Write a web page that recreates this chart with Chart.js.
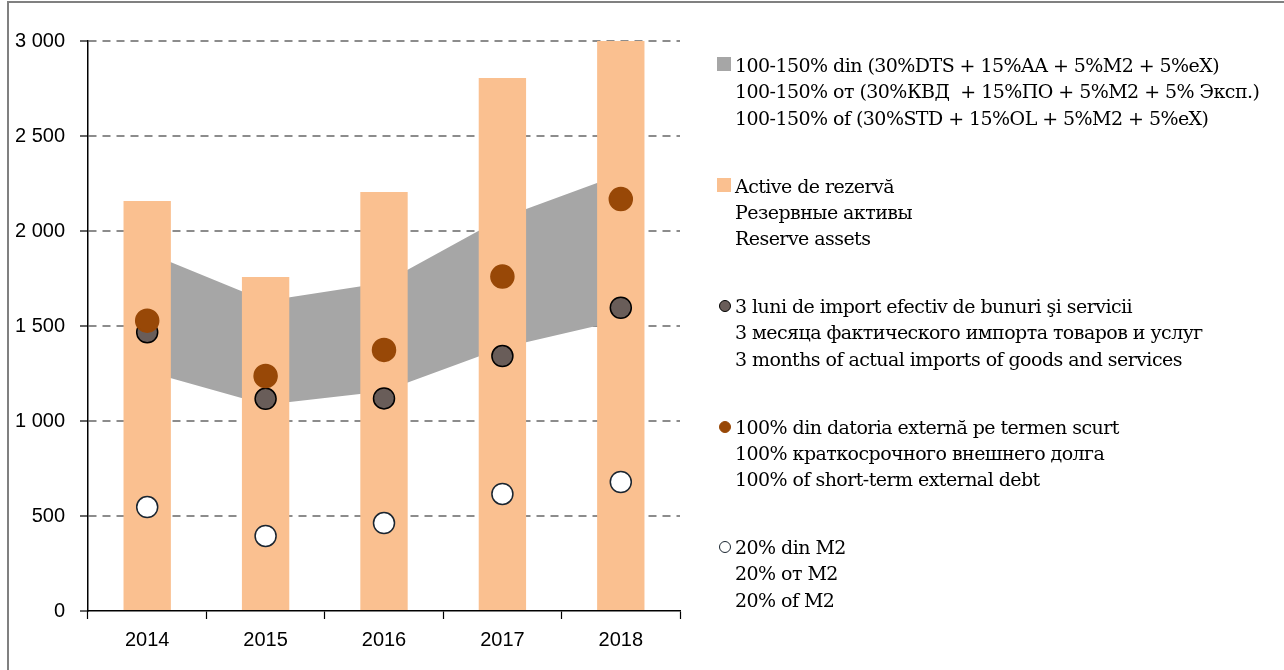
<!DOCTYPE html>
<html>
<head>
<meta charset="utf-8">
<script src="https://cdn.jsdelivr.net/npm/chart.js@4.4.1/dist/chart.umd.min.js"></script>
<style>
  body { margin: 0; background: #fff; }
  #wrap { position: relative; width: 1284px; height: 670px; overflow: hidden; }
  #frame { position: absolute; left: 7px; top: 1px; width: 1300px; height: 700px; border: 2px solid #808080; box-sizing: border-box; }
  canvas { position: absolute; left: 0; top: 0; }
  #legend { position: absolute; left: 0; top: 0; font-family: "DejaVu Serif", serif; font-size: 19px; letter-spacing: -0.55px; color: #000; }
  .item { position: absolute; left: 735px; white-space: pre; line-height: 26.3px; }
  .mk { position: absolute; box-sizing: border-box; }
</style>
</head>
<body>
<div id="wrap">
  <div id="frame"></div>
  <canvas id="reserveChart" width="1284" height="670"></canvas>
  <div id="legend"></div>
</div>
<script>
const years = ['2014', '2015', '2016', '2017', '2018'];
const reserveAssets = [2158, 1758, 2205, 2805, 3000];
const bandLow = [1261, 1086, 1156, 1385, 1530];   // 100%
const bandHigh = [1887, 1632, 1728, 2070, 2299];  // 150%
const imports3m = [1467, 1117, 1119, 1342, 1596];
const shortDebt = [1528, 1237, 1374, 1760, 2168];
const m2share = [547, 395, 463, 616, 679];
const yTicks = [0, 500, 1000, 1500, 2000, 2500, 3000];

const bandLabel = ['100-150% din (30%DTS + 15%AA + 5%M2 + 5%eX)',
                   '100-150% от (30%КВД  + 15%ПО + 5%M2 + 5% Эксп.)',
                   '100-150% of (30%STD + 15%OL + 5%M2 + 5%eX)'];
const reserveLabel = ['Active de rezervă', 'Резервные активы', 'Reserve assets'];
const importsLabel = ['3 luni de import efectiv de bunuri şi servicii',
                      '3 месяца фактического импорта товаров и услуг',
                      '3 months of actual imports of goods and services'];
const debtLabel = ['100% din datoria externă pe termen scurt',
                   '100% краткосрочного внешнего долга',
                   '100% of short-term external debt'];
const m2Label = ['20% din M2', '20% от M2', '20% of M2'];

function fmt(v) {
    if (v < 1000) return String(v);
    return Math.floor(v / 1000) + ' ' + String(v % 1000).padStart(3, '0');
}

const pointBase = { type: 'line', showLine: false, pointBorderWidth: 1.5 };

const ctx = document.getElementById('reserveChart').getContext('2d');
const reserveChart = new Chart(ctx, {
    type: 'bar',
    data: {
        labels: years,
        datasets: [
            { type: 'line', data: bandLow, borderColor: 'transparent', borderWidth: 0, pointRadius: 0, tension: 0, order: 10, fill: false },
            { type: 'line', label: bandLabel, data: bandHigh, borderColor: 'transparent', borderWidth: 0, pointRadius: 0, tension: 0,
              backgroundColor: '#A6A6A6', fill: '-1', order: 10, legendMarker: 'square' },
            { label: reserveLabel, data: reserveAssets, backgroundColor: '#FAC090', barPercentage: 0.4, categoryPercentage: 1, order: 5, legendMarker: 'square' },
            Object.assign({ label: importsLabel, data: imports3m, pointRadius: 10.5, pointBackgroundColor: '#695D59', pointBorderColor: '#000', backgroundColor: '#695D59', borderColor: '#000', order: 3 }, pointBase),
            Object.assign({ label: debtLabel, data: shortDebt, pointRadius: 11.5, pointBackgroundColor: '#984807', pointBorderColor: '#984807', backgroundColor: '#984807', borderColor: '#984807', order: 2 }, pointBase),
            Object.assign({ label: m2Label, data: m2share, pointRadius: 10.5, pointBackgroundColor: '#fff', pointBorderColor: '#1a2530', backgroundColor: '#fff', borderColor: '#1a2530', order: 1 }, pointBase)
        ]
    },
    options: {
        responsive: false,
        animation: false,
        events: [],
        layout: { padding: { left: 0, top: 41, right: 604, bottom: 0 } },
        plugins: { legend: { display: false }, tooltip: { enabled: false } },
        scales: {
            x: {
                afterFit: s => { s.height = 59; },
                grid: { drawOnChartArea: false, drawTicks: true, tickLength: 8, tickColor: '#000', tickWidth: 1.2 },
                border: { color: '#000', width: 1.5 },
                ticks: { color: '#000', padding: 9, font: { family: 'Liberation Sans', size: 20 } }
            },
            y: {
                min: 0, max: 3000,
                afterBuildTicks: s => { s.ticks = yTicks.map(v => ({ value: v })); },
                afterFit: s => { s.width = 88; },
                grid: {
                    color: c => c.tick && c.tick.value === 0 ? 'transparent' : '#8C8C8C',
                    lineWidth: 2, tickLength: 8, tickColor: '#000', tickWidth: 1.2, tickBorderDash: []
                },
                border: { color: '#000', width: 1.5, dash: [8, 6] },
                ticks: { color: '#000', padding: 15, callback: v => fmt(v), font: { family: 'Liberation Sans', size: 20 } }
            }
        }
    }
});

// legend built from the chart's datasets
const legendEl = document.getElementById('legend');
let row = 0;
reserveChart.data.datasets.forEach(ds => {
    if (!ds.label) return;
    const top = 52 + row * 120.5;
    const mk = document.createElement('div');
    mk.className = 'mk';
    if (ds.legendMarker === 'square') {
        Object.assign(mk.style, { left: '717px', top: (top + 5) + 'px', width: '14px', height: '14px', background: ds.backgroundColor });
    } else {
        Object.assign(mk.style, { left: '719px', top: (top + 7) + 'px', width: '12px', height: '12px', borderRadius: '50%',
            background: ds.backgroundColor, border: '1.5px solid ' + ds.borderColor });
    }
    legendEl.appendChild(mk);
    const txt = document.createElement('div');
    txt.className = 'item';
    txt.style.top = top + 'px';
    txt.textContent = ds.label.join('\n');
    legendEl.appendChild(txt);
    row++;
});
</script>
</body>
</html>
